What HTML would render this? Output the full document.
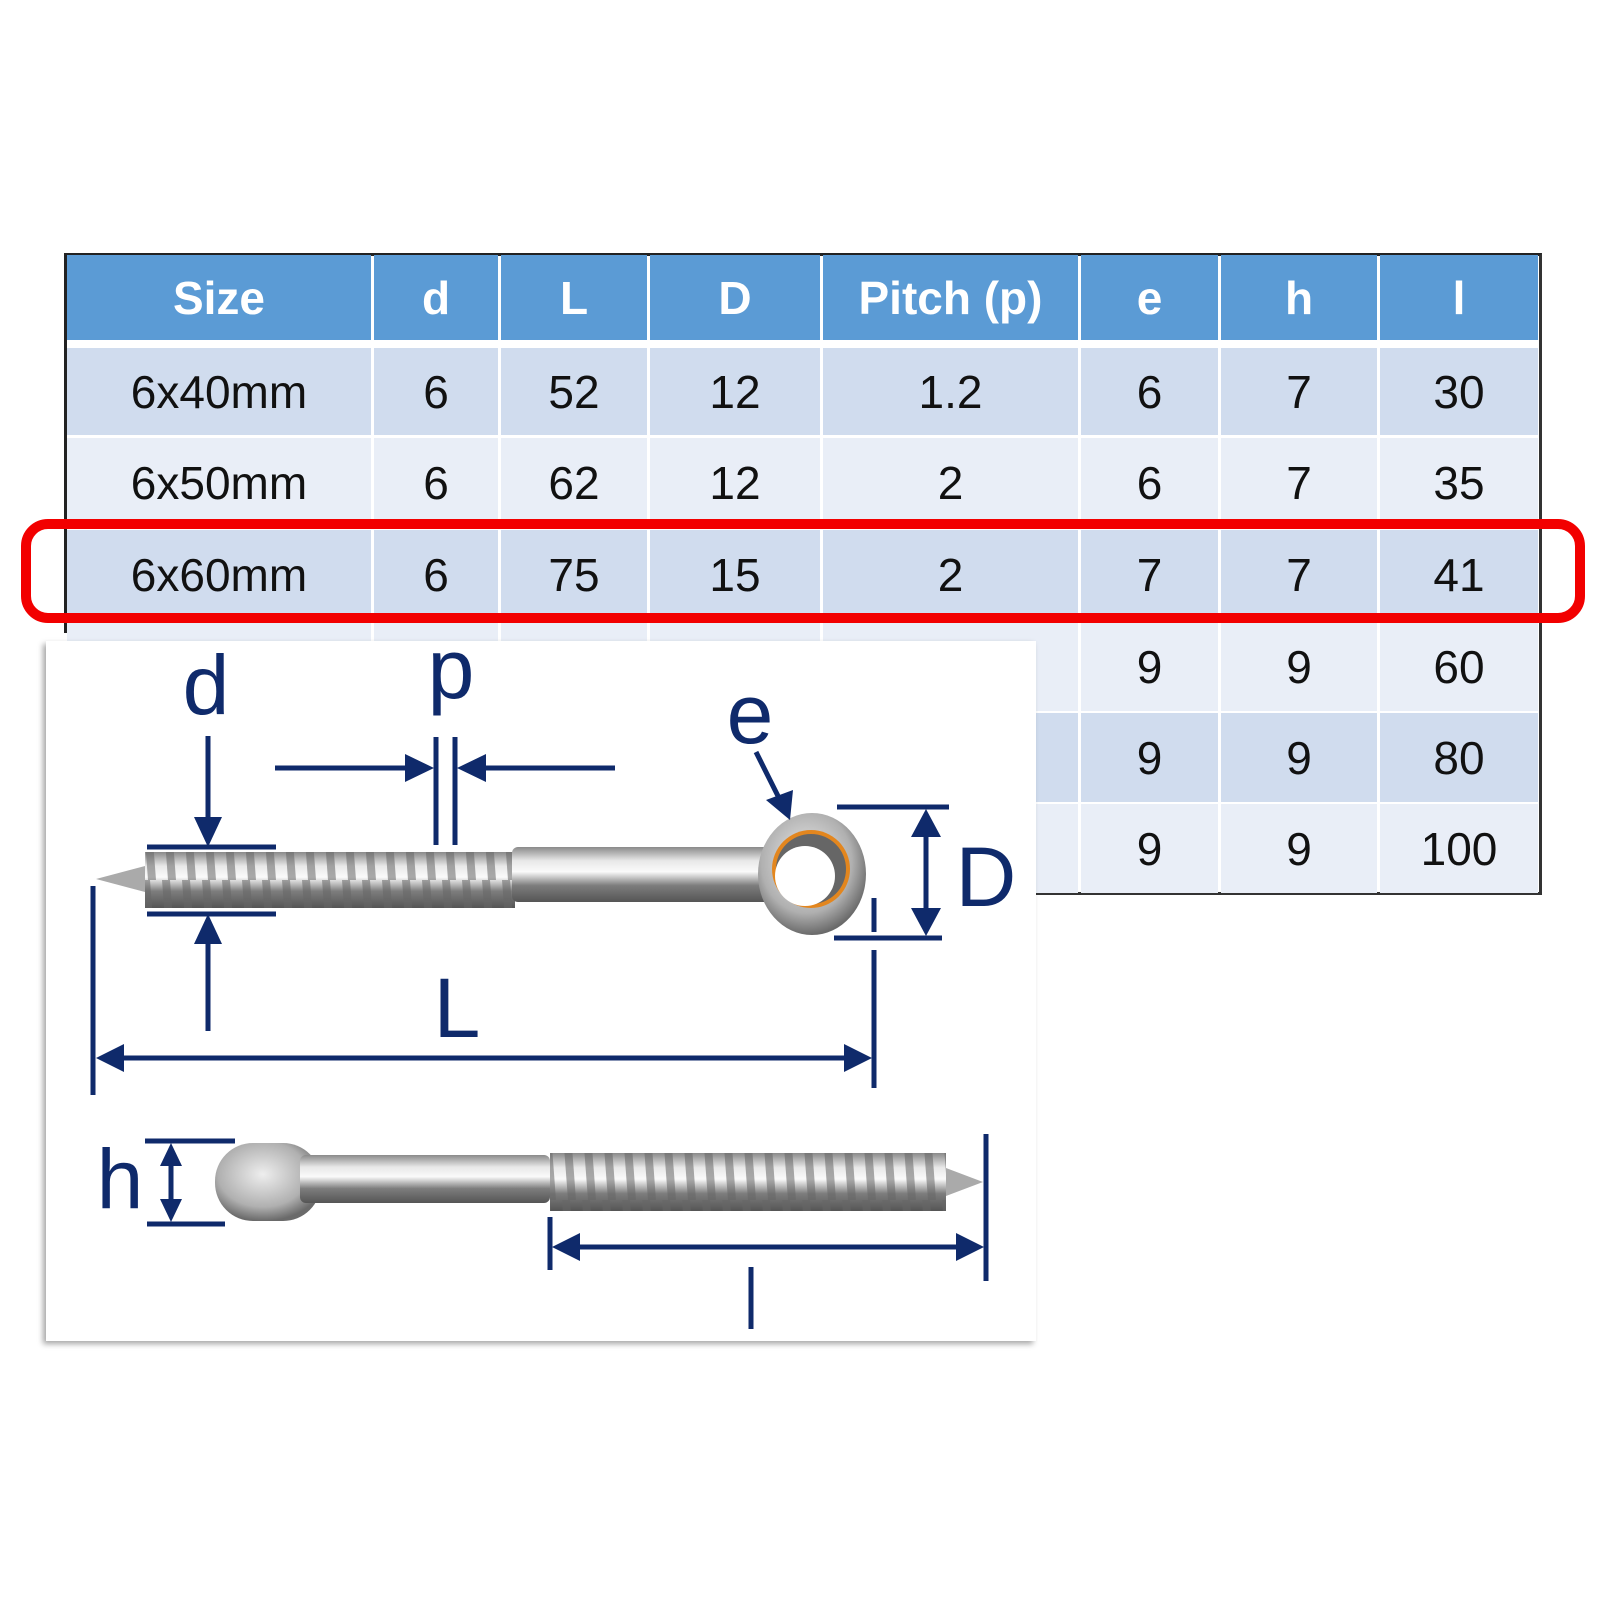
<!DOCTYPE html>
<html><head><meta charset="utf-8"><style>
body{margin:0;width:1600px;height:1600px;background:#fff;position:relative;overflow:hidden;font-family:"Liberation Sans",sans-serif}
.c{position:absolute;display:flex;align-items:center;justify-content:center;color:#111;font-size:46px}
.h{color:#fff;font-weight:bold;font-size:46px}
</style></head><body>
<div id="t"></div>
<svg width="1600" height="1600" style="position:absolute;left:0;top:0" xmlns="http://www.w3.org/2000/svg">
<defs>
<linearGradient id="met" x1="0" y1="0" x2="0" y2="1">
<stop offset="0" stop-color="#8a8a8a"/><stop offset="0.25" stop-color="#e8e8e8"/><stop offset="0.45" stop-color="#fafafa"/><stop offset="0.7" stop-color="#7d7d7d"/><stop offset="1" stop-color="#555"/>
</linearGradient>
<radialGradient id="eye" cx="0.45" cy="0.4" r="0.6"><stop offset="0" stop-color="#eee"/><stop offset="0.7" stop-color="#b0b0b0"/><stop offset="1" stop-color="#6a6a6a"/></radialGradient>
<pattern id="thr" x="0" y="0" width="20" height="80" patternUnits="userSpaceOnUse">
<rect width="20" height="80" fill="none"/><path d="M2 0 L10 0 L16 80 L8 80Z" fill="#666" opacity="0.55"/>
</pattern>
<filter id="sh"><feDropShadow dx="-3" dy="3" stdDeviation="3" flood-color="#000" flood-opacity="0.35"/></filter>
</defs>
<g id="tbl"></g>
<rect x="26" y="524" width="1554" height="94" rx="22" fill="none" stroke="#f20000" stroke-width="10"/>
<rect x="46" y="641" width="990" height="700" fill="#fff" filter="url(#sh)"/>
<!-- top screw -->
<g>
<path d="M96 879 L145 866 L145 892Z" fill="#aaa"/>
<rect x="145" y="852" width="370" height="56" fill="url(#met)"/>
<rect x="145" y="852" width="370" height="56" fill="url(#thr)"/>
<rect x="512" y="847" width="260" height="55" rx="6" fill="url(#met)"/>
<ellipse cx="812" cy="874" rx="54" ry="61" fill="url(#eye)"/>
<circle cx="811" cy="869" r="39" fill="#e3861e"/>
<circle cx="811" cy="869" r="35" fill="#666"/>
<circle cx="805" cy="876" r="30" fill="#fff"/>
</g>
<!-- bottom screw -->
<g>
<rect x="215" y="1143" width="106" height="78" rx="38" fill="url(#eye)"/>
<rect x="300" y="1155" width="250" height="48" rx="6" fill="url(#met)"/>
<rect x="550" y="1153" width="396" height="58" fill="url(#met)"/>
<rect x="550" y="1153" width="396" height="58" fill="url(#thr)"/>
<path d="M946 1168 L983 1182 L946 1196Z" fill="#aaa"/>
</g>
<g stroke="#0f2a6b" stroke-width="5" fill="none">
<line x1="208" y1="736" x2="208" y2="820"/><line x1="147" y1="847" x2="276" y2="847"/>
<line x1="147" y1="914" x2="276" y2="914"/><line x1="208" y1="940" x2="208" y2="1031"/>
<line x1="436" y1="737" x2="436" y2="845"/><line x1="455" y1="737" x2="455" y2="845"/>
<line x1="275" y1="768" x2="410" y2="768"/><line x1="481" y1="768" x2="615" y2="768"/>
<line x1="756" y1="752" x2="780" y2="800"/>
<line x1="837" y1="807" x2="949" y2="807"/><line x1="834" y1="938" x2="942" y2="938"/>
<line x1="926" y1="830" x2="926" y2="915"/>
<line x1="874" y1="898" x2="874" y2="932"/><line x1="874" y1="950" x2="874" y2="1088"/>
<line x1="93" y1="886" x2="93" y2="1095"/><line x1="118" y1="1058" x2="850" y2="1058"/>
<line x1="145" y1="1141" x2="235" y2="1141"/><line x1="147" y1="1224" x2="225" y2="1224"/>
<line x1="171" y1="1162" x2="171" y2="1203"/>
<line x1="986" y1="1134" x2="986" y2="1281"/><line x1="550" y1="1217" x2="550" y2="1270"/>
<line x1="575" y1="1247" x2="962" y2="1247"/>
<line x1="751" y1="1267" x2="751" y2="1329"/>
</g>
<g fill="#0f2a6b">
<path d="M194 817 L222 817 L208 847Z"/><path d="M194 944 L222 944 L208 914Z"/>
<path d="M405 754 L405 782 L434 768Z"/><path d="M486 754 L486 782 L457 768Z"/>
<path d="M766 800 L793 790 L790 820Z"/>
<path d="M911 837 L941 837 L926 809Z"/><path d="M911 908 L941 908 L926 936Z"/>
<path d="M96 1058 L124 1044 L124 1072Z"/><path d="M872 1058 L844 1044 L844 1072Z"/>
<path d="M160 1166 L182 1166 L171 1143Z"/><path d="M160 1199 L182 1199 L171 1222Z"/>
<path d="M552 1247 L580 1233 L580 1261Z"/><path d="M984 1247 L956 1233 L956 1261Z"/>
</g>
<g fill="#0f2a6b" font-family="Liberation Sans,sans-serif" font-size="84" text-anchor="middle">
<text x="206" y="714">d</text><text x="451" y="698">p</text><text x="750" y="743">e</text>
<text x="986" y="906">D</text><text x="457" y="1037">L</text><text x="120" y="1208">h</text>
</g>
</svg>
<script>
var cols=[66,373,500,649,822,1080,1220,1379,1540];
var rows=[[255,340],[348,435],[438,527],[530,620],[622,711],[713,802],[804,893]];
var data=[["Size","d","L","D","Pitch (p)","e","h","l"],["6x40mm","6","52","12","1.2","6","7","30"],["6x50mm","6","62","12","2","6","7","35"],["6x60mm","6","75","15","2","7","7","41"],["","","","","","9","9","60"],["","","","","","9","9","80"],["","","","","","9","9","100"]];
var bg=["#5b9bd5","#d0dcee","#e9eef7","#d0dcee","#e9eef7","#d0dcee","#e9eef7"];
var h='<div style="position:absolute;left:66px;top:253px;width:1476px;height:642px;background:#fff;border-top:3px solid #222;border-right:3px solid #333;border-bottom:3px solid #333;box-sizing:border-box"></div>';
for(var r=0;r<7;r++)for(var c=0;c<8;c++){
h+='<div class="c'+(r==0?' h':'')+'" style="left:'+(cols[c]+1)+'px;top:'+rows[r][0]+'px;width:'+(cols[c+1]-cols[c]-3)+'px;height:'+(rows[r][1]-rows[r][0])+'px;background:'+bg[r]+'">'+data[r][c]+'</div>';}
h+='<div style="position:absolute;left:64px;top:253px;width:3px;height:380px;background:#222"></div>';
document.getElementById('t').innerHTML=h;
</script>
</body></html>
